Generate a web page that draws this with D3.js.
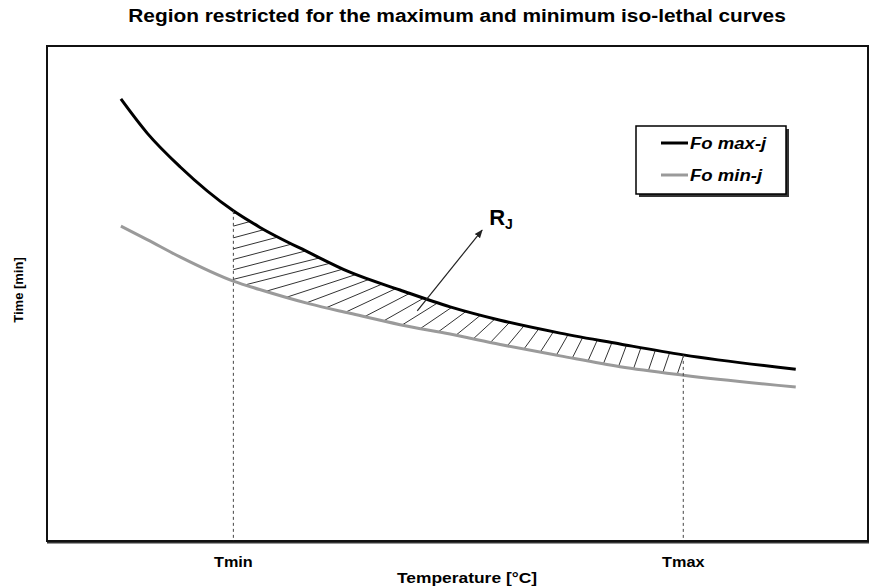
<!DOCTYPE html>
<html>
<head>
<meta charset="utf-8">
<script src="https://cdn.jsdelivr.net/npm/d3@7"></script>
<style>
  html, body { margin: 0; padding: 0; background: #fff; }
  svg { display: block; font-family: "Liberation Sans", Arial, sans-serif; }
</style>
</head>
<body>
<script>
// Temperature (arbitrary units, no ticks shown) and the two iso-lethal curves (time, arbitrary units)
const temps = [9.0, 12.2, 16.2, 22.7, 25.9, 32.0, 36.9, 43.0, 49.1, 55.2, 62.5, 69.8, 77.5, 91.2];
const foMax = [89.3, 82.4, 75.6, 66.7, 63.4, 58.2, 54.3, 50.7, 47.3, 44.6, 42.0, 39.8, 37.6, 34.7];
const foMin = [63.6, 60.9, 57.4, 52.5, 50.8, 47.9, 46.0, 43.7, 41.8, 39.7, 37.4, 35.2, 33.5, 31.1];

const seriesNames = ["Fo max-j", "Fo min-j"];
const seriesColors = ["#000000", "#9a9a9a"];

// Temperature limits of the restricted region
const limitLabels = ["Tmin", "Tmax"];
const limitValues = [22.7, 77.5];

// Annotation arrow pointing at the region R_J
const arrowFrom = [45.1, 46.5];
const arrowTo = [53.0, 62.8];

const W = 870, H = 586;
const frame = { left: 47, right: 868, top: 46, bottom: 541 };
const textStretch = 1.16; // horizontal text proportion of the figure

const x = d3.scaleLinear().domain([0, 100]).range([frame.left, frame.right]);
const y = d3.scaleLinear().domain([0, 100]).range([frame.bottom, frame.top]);

const svg = d3.select("body").append("svg").attr("width", W).attr("height", H);

function label(parent, px, py, txt, size, anchor, extra) {
  const t = parent.append("text")
    .attr("transform", `translate(${px},${py}) scale(${textStretch},1)`)
    .attr("text-anchor", anchor)
    .attr("font-size", size).attr("font-weight", "bold")
    .text(txt);
  if (extra) extra(t);
  return t;
}

const defs = svg.append("defs");
defs.append("marker")
  .attr("id", "arrowhead")
  .attr("viewBox", "0 0 10 10")
  .attr("refX", 9).attr("refY", 5)
  .attr("markerWidth", 7).attr("markerHeight", 7)
  .attr("orient", "auto")
  .append("path").attr("d", "M0,1 L10,5 L0,9 Z").attr("fill", "#222");

// Title
label(svg, 457, 22, "Region restricted for the maximum and minimum iso-lethal curves", 18, "middle");

// Plot frame with a slight drop shadow
svg.append("line")
  .attr("x1", frame.left).attr("x2", frame.right + 1)
  .attr("y1", frame.bottom + 1.5).attr("y2", frame.bottom + 1.5)
  .attr("stroke", "#333").attr("stroke-width", 2);
svg.append("rect")
  .attr("x", frame.left).attr("y", frame.top)
  .attr("width", frame.right - frame.left).attr("height", frame.bottom - frame.top)
  .attr("fill", "none").attr("stroke", "#111").attr("stroke-width", 2);

// Curves
const pts = (vals) => temps.map((t, i) => [t, vals[i]]);
const line = d3.line().x(d => x(d[0])).y(d => y(d[1])).curve(d3.curveMonotoneX);

const curveMax = svg.append("path").attr("d", line(pts(foMax)))
  .attr("fill", "none").attr("stroke", seriesColors[0]).attr("stroke-width", 3);
const curveMin = svg.append("path").attr("d", line(pts(foMin)))
  .attr("fill", "none").attr("stroke", seriesColors[1]).attr("stroke-width", 3);

// Sample a rendered path so y can be looked up at any x
function sampler(node) {
  const len = node.getTotalLength();
  const s = [];
  for (let l = 0; l <= len; l += 0.5) s.push(node.getPointAtLength(l));
  return function (px) {
    if (px <= s[0].x) return s[0].y;
    for (let i = 1; i < s.length; i++) {
      if (s[i].x >= px) {
        const a = s[i - 1], b = s[i];
        const f = (px - a.x) / ((b.x - a.x) || 1);
        return a.y + f * (b.y - a.y);
      }
    }
    return s[s.length - 1].y;
  };
}
const yMaxAt = sampler(curveMax.node());
const yMinAt = sampler(curveMin.node());

const xT0 = x(limitValues[0]), xT1 = x(limitValues[1]);

// Clip for the hatched region: between the curves, from Tmin to Tmax
const area = d3.area().x(d => x(d[0])).y0(d => y(d[2])).y1(d => y(d[1])).curve(d3.curveMonotoneX);
defs.append("clipPath").attr("id", "betweenCurves")
  .append("path").attr("d", area(temps.map((t, i) => [t, foMax[i], foMin[i]])));
defs.append("clipPath").attr("id", "tRange")
  .append("rect").attr("x", xT0).attr("y", frame.top)
  .attr("width", xT1 - xT0).attr("height", frame.bottom - frame.top);

const hatch = svg.append("g").attr("clip-path", "url(#tRange)")
  .append("g").attr("clip-path", "url(#betweenCurves)");

// Hatch strokes run from the lower curve up to the upper curve, steepening to the right
let hx = xT0 - 90;
while (hx < xT1 + 4) {
  const t = Math.max(0, Math.min(1, (hx - xT0) / (xT1 - xT0)));
  const reach = 8 + 87 * Math.pow(1 - t, 2.16);
  const xs = hx, xe = hx + reach;
  hatch.append("line")
    .attr("x1", xs).attr("y1", yMinAt(xs) + 2)
    .attr("x2", xe).attr("y2", yMaxAt(xe) - 2)
    .attr("stroke", "#333").attr("stroke-width", 1);
  hx += hx < xT0 ? 14 : 21 - 7 * t;
}

// Redraw curves above the hatch
curveMax.raise();
curveMin.raise();

// Dotted verticals at Tmin / Tmax
limitValues.forEach((v, i) => {
  const px = x(v);
  svg.append("line")
    .attr("x1", px).attr("x2", px)
    .attr("y1", yMaxAt(px)).attr("y2", frame.bottom)
    .attr("stroke", "#444").attr("stroke-width", 1)
    .attr("stroke-dasharray", "3,3");
  label(svg, px, 567, limitLabels[i], 14, "middle");
});

// Axis titles
label(svg, 467, 583, "Temperature [°C]", 15, "middle");
svg.append("text")
  .attr("transform", "translate(23,290) rotate(-90)")
  .attr("text-anchor", "middle")
  .attr("font-size", 13).attr("font-weight", "bold")
  .text("Time [min]");

// Arrow and region label
svg.append("line")
  .attr("x1", x(arrowFrom[0])).attr("y1", y(arrowFrom[1]))
  .attr("x2", x(arrowTo[0])).attr("y2", y(arrowTo[1]))
  .attr("stroke", "#222").attr("stroke-width", 1.2)
  .attr("marker-end", "url(#arrowhead)");
const rj = svg.append("text")
  .attr("x", x(arrowTo[0]) + 7).attr("y", y(arrowTo[1]) - 5)
  .attr("font-size", 22).attr("font-weight", "bold");
rj.append("tspan").text("R");
rj.append("tspan").attr("font-size", 14).attr("dy", 4).text("J");

// Legend
const lg = svg.append("g").attr("transform", "translate(636,126)");
lg.append("rect").attr("x", 3).attr("y", 3).attr("width", 150).attr("height", 68).attr("fill", "#333");
lg.append("rect").attr("width", 150).attr("height", 68)
  .attr("fill", "#fff").attr("stroke", "#000").attr("stroke-width", 1.5);
seriesNames.forEach((name, i) => {
  const ly = 17 + i * 32;
  lg.append("line").attr("x1", 25).attr("x2", 52).attr("y1", ly).attr("y2", ly)
    .attr("stroke", seriesColors[i]).attr("stroke-width", 3);
  label(lg, 54, ly + 6, name, 16, "start", t => t.attr("font-style", "italic"));
});
</script>
</body>
</html>
